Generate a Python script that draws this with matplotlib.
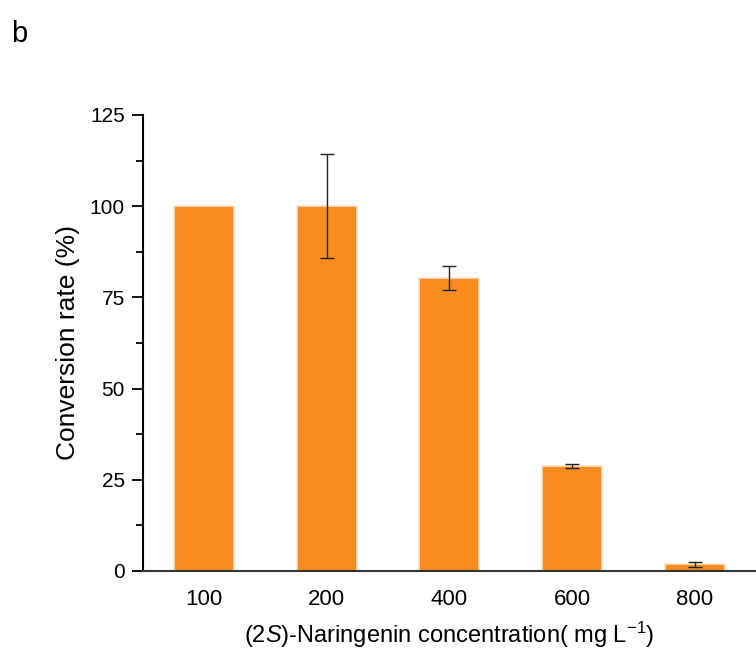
import matplotlib
matplotlib.use("Agg")
import matplotlib.pyplot as plt
from matplotlib.ticker import MultipleLocator
import numpy as np

plt.rcParams['font.family'] = ['Liberation Sans', 'DejaVu Sans']
plt.rcParams['mathtext.fontset'] = 'custom'
plt.rcParams['mathtext.rm'] = 'Liberation Sans'
plt.rcParams['mathtext.it'] = 'Liberation Sans:italic'

############################ Datos ############################
conc = ['100', '200', '400', '600', '800']
rate = [100.0, 100.0, 80.3, 28.8, 1.8]
err = [0.0, 14.2, 3.3, 0.6, 0.7]

############################ Figura ############################
fig = plt.figure(figsize=(7.56, 6.53), dpi=100)
ax = fig.add_axes([0.189, 0.1256, 0.811, 0.6984])

x = np.arange(len(conc))
ax.bar(x, rate, width=0.49, color='#F98C1E', edgecolor='#FBE3C8', linewidth=1.2,
       yerr=[e if e > 0 else np.nan for e in err], capsize=5,
       error_kw=dict(ecolor='#222222', elinewidth=1.0, capthick=1.0))

ax.set_xlim(-0.5, 4.5)
ax.set_ylim(0, 125)
ax.set_xticks(x)
ax.set_xticklabels(conc)
ax.yaxis.set_major_locator(MultipleLocator(25))
ax.yaxis.set_minor_locator(MultipleLocator(12.5))

ax.spines['top'].set_visible(False)
ax.spines['right'].set_visible(False)
ax.spines['left'].set_linewidth(1.5)
ax.spines['bottom'].set_linewidth(1.5)
ax.spines['bottom'].set_color('#333333')

ax.tick_params(axis='x', length=0, labelsize=16, pad=13)
ax.tick_params(axis='y', which='major', length=8, width=1.3, labelsize=15, pad=5)
ax.tick_params(axis='y', which='minor', length=5, width=1.3)

ax.set_ylabel('Conversion rate (%)', fontsize=19, labelpad=7)
ax.set_xlabel(r'(2$\mathit{S}$)-Naringenin concentration( mg L$^{-1}$)', fontsize=17, labelpad=7)

fig.text(0.015, 0.935, 'b', fontsize=21)

fig.savefig('out.png', dpi=100)
